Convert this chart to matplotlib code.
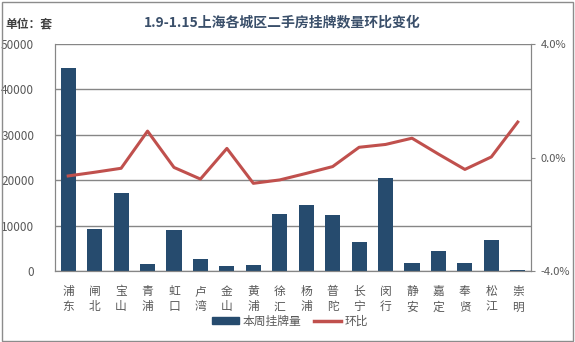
import matplotlib.pyplot as plt
from matplotlib.patches import Rectangle
from matplotlib.lines import Line2D
from matplotlib.ticker import FuncFormatter

plt.rcParams['font.family'] = ['Noto Sans CJK SC', 'DejaVu Sans']

# === data ===
districts = ["浦东", "闸北", "宝山", "青浦", "虹口", "卢湾", "金山", "黄浦", "徐汇",
             "杨浦", "普陀", "长宁", "闵行", "静安", "嘉定", "奉贤", "松江", "崇明"]
listings = [44800, 9300, 17200, 1600, 9100, 2700, 1100, 1300, 12600,
            14600, 12400, 6400, 20500, 1800, 4400, 1800, 6900, 300]
mom_pct = [-0.65, -0.52, -0.38, 0.93, -0.35, -0.76, 0.32, -0.91, -0.79,
           -0.56, -0.32, 0.36, 0.46, 0.68, 0.12, -0.42, 0.02, 1.25]

bar_color = "#264B6E"
line_color = "#C0504D"
text_color = "#595959"
grid_color = "#868686"

fig = plt.figure(figsize=(5.75, 3.42), dpi=100)
ax = fig.add_axes([55 / 575, 1 - 271 / 342, 476 / 575, 227 / 342])

x = range(len(districts))
ax.bar(x, listings, width=0.57, color=bar_color, zorder=2)
ax.set_xlim(-0.5, len(districts) - 0.5)
ax.set_ylim(0, 50000)
ax.set_yticks(range(0, 50001, 10000))
ax.yaxis.grid(True, color=grid_color, linewidth=1)
ax.set_axisbelow(True)
ax.set_xticks(list(x))
ax.set_xticklabels(["\n".join(d) for d in districts], linespacing=1.25)
ax.tick_params(axis="x", length=0, pad=10, labelsize=8.5, colors=text_color)
ax.tick_params(axis="y", length=0, pad=15, labelsize=8.5, colors=text_color)
for side in ["left", "right", "bottom", "top"]:
    ax.spines[side].set_color(grid_color)
ax.spines["top"].set_visible(False)

ax2 = ax.twinx()
ax2.plot(x, mom_pct, color=line_color, linewidth=2.2, zorder=3)
ax2.set_ylim(-4, 4)
ax2.set_yticks([-4, 0, 4])
ax2.yaxis.set_major_formatter(FuncFormatter(lambda v, p: f"{v:.1f}%"))
ax2.tick_params(axis="y", length=3, direction="out", pad=4, labelsize=8,
                colors=text_color, color=grid_color)
for side in ["left", "right", "bottom", "top"]:
    ax2.spines[side].set_color(grid_color)
ax2.spines["top"].set_visible(False)

fig.text(282 / 575, 1 - 22 / 342, "1.9-1.15上海各城区二手房挂牌数量环比变化",
         ha="center", va="center", fontsize=10, fontweight="bold", color="#3A4F6A")
fig.text(5 / 575, 1 - 24 / 342, "单位：套", ha="left", va="center",
         fontsize=8.5, fontweight="bold", color="#404040")

handles = [Rectangle((0, 0), 1, 1, color=bar_color),
           Line2D([0], [0], color=line_color, linewidth=2.5)]
fig.legend(handles, ["本周挂牌量", "环比"], loc="center", ncol=2,
           bbox_to_anchor=(290 / 575, 1 - 321 / 342), frameon=False,
           fontsize=8.5, labelcolor=text_color, handlelength=2.3,
           handleheight=0.6, columnspacing=1.0, handletextpad=0.3)

fig.patches.append(Rectangle((0.003, 0.004), 0.993, 0.99, transform=fig.transFigure,
                             fill=False, edgecolor="#8C8C8C", linewidth=1))

fig.savefig("out.png", dpi=100)
